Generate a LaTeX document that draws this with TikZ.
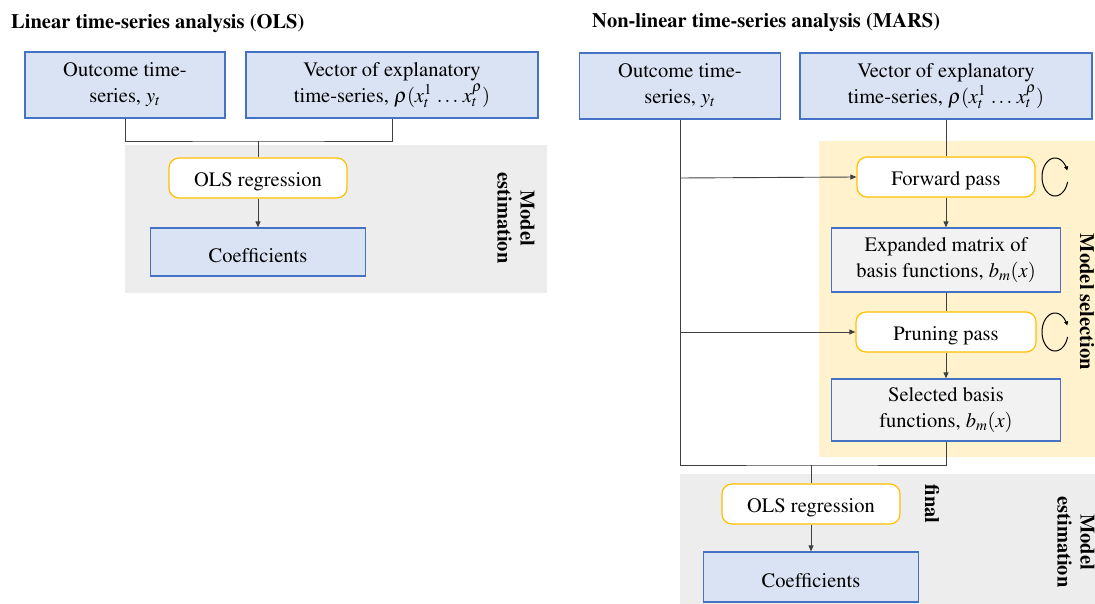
\documentclass[tikz,border=0pt]{standalone}
\usepackage[T1]{fontenc}
\usepackage{mathptmx}
\usetikzlibrary{arrows.meta}
\definecolor{boxblue}{HTML}{DAE3F3}
\definecolor{edgeblue}{HTML}{4472C4}
\definecolor{olsyellow}{HTML}{FFC000}
\definecolor{panelyellow}{HTML}{FFF2CC}
\definecolor{panelgray}{HTML}{EDEDED}
\definecolor{boxgray}{HTML}{F2F2F2}
\definecolor{linegray}{HTML}{404040}
\tikzset{
  txt/.style={font=\fontsize{20.5}{26}\selectfont, align=center, inner sep=0pt,
    execute at begin node={\rule{0pt}{20.5pt}}},
  inbox/.style={txt, draw=edgeblue, fill=boxblue, line width=1.2pt},
  graybox/.style={txt, draw=edgeblue, fill=boxgray, line width=1.2pt},
  procbox/.style={txt, draw=olsyellow, fill=white, rounded corners=10pt, line width=1.2pt},
  lbl/.style={font=\fontsize{20.5}{23}\selectfont\bfseries, align=center, inner sep=0pt},
  conn/.style={draw=linegray, line width=0.9pt},
  arr/.style={conn, -{Triangle[length=6pt,width=5pt]}},
  loop/.style={draw=black, line width=1pt, -{Triangle[length=4pt,width=4pt]}}
}
\begin{document}
\begin{tikzpicture}[x=1pt,y=-1pt]
\useasboundingbox (0,0) rectangle (1095,604);
% ---------- panels
\fill[panelgray] (125,145) rectangle (547,293);
\fill[panelyellow] (819,141) rectangle (1095,457);
\fill[panelgray] (680,474) rectangle (1095,604);
% ---------- titles
\node[lbl, anchor=west] (tL) at (11,24) {Linear time-series analysis (OLS)};
\node[lbl, anchor=west] (tR) at (592,23) {Non-linear time-series analysis (MARS)};
% ---------- left diagram
\node[inbox, minimum width=200pt, minimum height=66pt] (oL) at (125,85) {Outcome time-\\series, $y_t$};
\node[inbox, minimum width=292pt, minimum height=66pt] (vL) at (392,85) {Vector of explanatory\\time-series, $\rho(x_t^1\,\ldots\,x_t^\rho)$};
\node[procbox, minimum width=178pt, minimum height=40pt] (olsL) at (258,178) {OLS regression};
\node[inbox, minimum width=215pt, minimum height=48pt] (coefL) at (258,252) {Coefficients};
\coordinate (jL) at (258,141);
\draw[conn] (oL.south) |- (jL) -| (vL.south);
\draw[conn] (jL) -- (olsL.north);
\draw[arr] (olsL.south) -- (coefL.north);
\node[lbl, rotate=-90] (meL) at (516,218) {Model\\estimation};
% ---------- right diagram
\node[inbox, minimum width=201pt, minimum height=66pt] (oR) at (680,86) {Outcome time-\\series, $y_t$};
\node[inbox, minimum width=292pt, minimum height=66pt] (vR) at (946,86) {Vector of explanatory\\time-series, $\rho(x_t^1\,\ldots\,x_t^\rho)$};
\node[procbox, minimum width=178pt, minimum height=40pt] (fwd) at (946,177) {Forward pass};
\node[graybox, minimum width=229pt, minimum height=64pt] (exp) at (946,260) {Expanded matrix of\\basis functions, $b_m(x)$};
\node[procbox, minimum width=180pt, minimum height=40pt] (prn) at (946,332) {Pruning pass};
\node[graybox, minimum width=229pt, minimum height=62pt] (sel) at (946,410) {Selected basis\\functions, $b_m(x)$};
\node[procbox, minimum width=178pt, minimum height=40pt] (olsR) at (811,504) {OLS regression};
\node[inbox, minimum width=215pt, minimum height=50pt] (coefR) at (811,577) {Coefficients};
\coordinate (jR) at (811,465);
\coordinate (fR) at (680,178);
\coordinate (pR) at (680,332);
\draw[conn] (vR.south) -- (fwd.north);
\draw[arr] (fwd.south) -- (exp.north);
\draw[conn] (exp.south) -- (prn.north);
\draw[arr] (prn.south) -- (sel.north);
\draw[conn] (oR.south) |- (jR) -| (sel.south);
\draw[arr] (fR) -- (fwd.west);
\draw[arr] (pR) -- (prn.west);
\draw[conn] (jR) -- (olsR.north);
\draw[arr] (olsR.south) -- (coefR.north);
% loops
\draw[loop] plot[smooth, domain=15:340, samples=40] ({1055+13*cos(\x)},{177+19*sin(\x)});
\draw[loop] plot[smooth, domain=15:340, samples=40] ({1055+13*cos(\x)},{332+19*sin(\x)});
% labels
\node[lbl, rotate=-90] (msR) at (1087,302) {Model selection};
\node[lbl, rotate=-90] (meR) at (1076,542) {Model\\estimation};
\node[lbl, rotate=-90] (fin) at (932,504) {final};
\end{tikzpicture}
\end{document}
